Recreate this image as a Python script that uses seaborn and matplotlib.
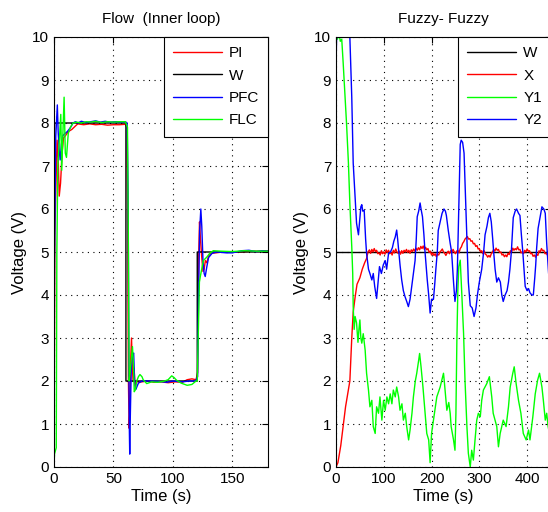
import pandas as pd
import matplotlib
matplotlib.use("Agg")
import matplotlib.pyplot as plt
import seaborn as sns

# --- data (time s, voltage V) ---
# left panel: Flow (Inner loop)
flow_w = [(0, 0), (0.5, 8), (60.5, 8), (60.5, 2), (120.5, 2), (120.5, 5), (180, 5)]
flow_pi = [(0, 0), (0.7, 5.4), (1.5, 6.4), (2.6, 7.6), (3.5, 7.2), (4.4, 6.3), (5.5, 6.6),
           (6.8, 7.3), (8, 7.65), (10, 7.72), (12, 7.8), (15, 7.85), (18, 7.93), (20, 7.98),
           (25, 7.96), (30, 7.98), (35, 7.96), (40, 7.97), (45, 7.95), (50, 7.96), (55, 7.96),
           (60, 7.97), (61.3, 7.9), (62, 5.5), (62.6, 2.0), (63.2, 0.9), (63.8, 1.3), (64.5, 2.5),
           (65.2, 3.0), (65.8, 2.4), (66.5, 2.0), (67.3, 2.3), (68.2, 1.9), (69.5, 2.0),
           (71, 1.97), (74, 1.98), (78, 2.0), (84, 1.97), (90, 1.98), (96, 1.96), (102, 1.98),
           (108, 1.97), (112, 2.03), (116, 2.05), (119.5, 2.03), (120.8, 2.2), (121.6, 4.8),
           (122.4, 5.7), (123.2, 5.3), (124.2, 4.9), (125.3, 4.55), (126.3, 4.6), (127.3, 4.8),
           (128.5, 4.75), (130, 4.9), (132, 4.97), (136, 4.98), (142, 5.0), (150, 5.0),
           (158, 5.0), (166, 5.02), (174, 5.02), (180, 5.03)]
flow_pfc = [(0, 0), (0.4, 4.8), (1.5, 7.7), (2.8, 8.42), (3.5, 7.8), (4.3, 7.4), (5.2, 7.14),
            (6.2, 7.5), (7.3, 7.7), (9, 7.75), (11.2, 7.8), (14, 7.9), (16, 8.0), (18, 8.03),
            (20, 8.0), (23, 8.04), (27, 8.01), (31, 8.03), (35, 8.05), (39, 8.02), (43, 8.04),
            (47, 8.02), (52, 8.03), (56, 8.02), (60, 8.03), (61.5, 8.0), (62.3, 6.4), (62.8, 3.5),
            (63.3, 1.0), (63.7, 0.3), (64.2, 1.2), (65, 2.3), (66, 2.6), (67, 2.65), (67.8, 2.0),
            (68.6, 1.8), (69.5, 1.85), (71, 1.95), (74, 2.0), (80, 2.0), (88, 1.99), (95, 1.97),
            (100, 2.0), (108, 1.98), (114, 2.0), (119, 2.0), (120.8, 2.1), (121.6, 4.0),
            (122.5, 5.5), (123.5, 6.0), (124.3, 5.6), (125.3, 4.8), (126.3, 4.5), (127.2, 4.43),
            (128.5, 4.65), (130, 4.87), (133, 4.97), (137, 5.0), (145, 4.98), (150, 4.98),
            (158, 5.03), (164, 5.04), (170, 5.01), (175, 5.03), (180, 5.02)]
flow_flc = [(0, 0), (0.4, 0.3), (1.9, 0.45), (2.4, 5.0), (3.2, 7.0), (4.5, 7.6), (5.7, 8.2),
            (6.5, 6.9), (7.3, 7.6), (8.5, 8.6), (9.5, 7.3), (10.5, 7.2), (12, 7.76), (13.8, 7.9),
            (16, 8.0), (19, 8.02), (23, 8.0), (27, 8.03), (31, 8.02), (35, 8.04), (40, 8.01),
            (45, 8.03), (50, 8.02), (55, 8.03), (60, 8.03), (61.8, 7.9), (62.5, 5.5), (63.2, 2.0),
            (64, 2.2), (65, 2.5), (66, 2.8), (66.8, 2.4), (67.5, 1.75), (68.5, 1.8), (69.6, 2.0),
            (71, 2.1), (72.3, 2.15), (74, 2.1), (75, 2.03), (78, 1.94), (82, 1.98), (87, 1.97),
            (92, 1.99), (96, 2.03), (99, 2.12), (101, 2.08), (103, 2.02), (107, 1.95), (112, 1.9),
            (116, 1.92), (119.5, 2.0), (120.5, 2.0), (121.3, 3.0), (122.3, 4.3), (123.2, 4.45),
            (125.6, 4.8), (128.5, 4.88), (131, 4.97), (134, 5.03), (140, 5.02), (150, 5.01),
            (160, 5.03), (170, 5.02), (180, 5.02)]

# right panel: Fuzzy- Fuzzy
fz_w = [(0, 5), (450, 5)]
fz_x = [(0, 0), (4, 0.1), (10, 0.5), (20, 1.4), (29, 2.0), (33, 3.0), (36, 3.6), (40, 3.95),
        (44, 4.25), (50, 4.4), (55, 4.6), (60, 4.75), (64, 4.85), (67, 5.0),
        (70, 5.05), (72.5, 4.97), (75, 5.06), (77.5, 5.0), (80, 5.08), (82.5, 5.01), (85, 5.04),
        (87.5, 4.96), (90, 4.98), (92.5, 4.93), (95, 5.03), (97.5, 4.96), (100, 5.0),
        (102.5, 4.95), (105, 5.05), (107.5, 4.99), (110, 5.04), (112.5, 4.96), (115, 4.99),
        (117.5, 4.93), (120, 5.04), (122.5, 4.98), (125, 5.07), (127.5, 5.0), (130, 4.97),
        (132.5, 5.02), (135, 4.95), (137.5, 5.03), (140, 4.97), (142.5, 5.04), (145, 5.0),
        (147.5, 5.06), (150, 4.99), (152.5, 5.04), (155, 4.97), (157.5, 5.05), (160, 5.01),
        (162.5, 5.07), (165, 5.02), (167.5, 5.09), (170, 5.04), (172.5, 5.1), (175, 5.05),
        (177.5, 5.13), (180, 5.08), (182.5, 5.14), (185, 5.06), (187.5, 5.11), (190, 5.05),
        (192.5, 5.08), (195, 4.99), (197.5, 5.02), (200, 4.93), (202.5, 4.98), (205, 4.92),
        (207.5, 4.96), (210, 4.89), (212.5, 4.95), (215, 4.93), (217.5, 5.0), (220, 5.03),
        (222.5, 5.07), (225, 5.0), (227.5, 4.97), (230, 4.92), (232.5, 4.98), (235, 5.02),
        (237.5, 4.96), (240, 5.03), (242.5, 4.98), (245, 5.06), (247.5, 5.0), (250, 4.96),
        (252.5, 5.02), (255, 5.04), (257.5, 4.98), (260, 5.08), (262.5, 5.12), (265, 5.2),
        (267.5, 5.24), (270, 5.3), (272.5, 5.33), (275, 5.36), (277.5, 5.3), (280, 5.31),
        (282.5, 5.25), (285, 5.26), (287.5, 5.19), (290, 5.2), (292.5, 5.13), (295, 5.15),
        (297.5, 5.07), (300, 5.08), (302.5, 5.0), (305, 5.03), (307.5, 4.96), (310, 5.03),
        (312.5, 4.95), (315, 4.93), (317.5, 4.88), (320, 4.92), (322.5, 4.88), (325, 4.96),
        (327.5, 5.0), (330, 5.06), (332.5, 5.02), (335, 5.09), (337.5, 5.04), (340, 5.06),
        (342.5, 4.99), (345, 5.0), (347.5, 4.93), (350, 4.95), (352.5, 4.89), (355, 4.93),
        (357.5, 4.89), (360, 4.97), (362.5, 4.94), (365, 5.03), (367.5, 5.0), (370, 5.09),
        (372.5, 5.04), (375, 5.08), (377.5, 5.05), (380, 5.12), (382.5, 5.05), (385, 5.06),
        (387.5, 4.98), (390, 5.0), (392.5, 4.96), (395, 5.04), (397.5, 5.0), (400, 5.07),
        (402.5, 5.02), (405, 5.03), (407.5, 4.96), (410, 4.97), (412.5, 4.9), (415, 4.93),
        (417.5, 4.88), (420, 4.95), (422.5, 4.92), (425, 5.03), (427.5, 5.0), (430, 5.08),
        (432.5, 5.03), (435, 5.04), (437.5, 4.96), (440, 4.97), (442.5, 4.93), (445, 5.04),
        (447.5, 4.98), (450, 5.02)]
fz_y1 = [(0, 10.2), (3, 9.95), (6, 10.1), (9, 9.9), (12, 9.95), (15, 9.4), (19, 8.6), (22, 8.0),
         (26, 7.07), (29, 6.13), (33, 5.12), (35, 4.5), (36, 3.73), (38, 3.2), (40, 3.5),
         (43, 3.35), (46, 2.9), (48, 3.2), (50, 3.42), (52, 3.0), (54, 2.88), (57, 3.1),
         (61, 2.72), (64, 2.18), (68, 1.79), (71, 1.4), (75, 1.55), (78, 0.94), (82, 0.78),
         (85, 1.4), (89, 1.25), (92, 1.63), (96, 1.09), (99.5, 1.55), (103, 1.32), (106.5, 1.63),
         (110, 1.47), (113.5, 1.7), (117, 1.47), (120, 1.79), (124, 1.63), (127, 1.86),
         (131, 1.63), (134, 1.32), (138, 1.47), (141, 1.09), (145, 1.25), (148, 0.94),
         (152, 0.63), (155, 0.86), (159, 1.25), (162, 1.63), (166, 2.0), (169, 2.18),
         (173, 2.48), (175, 2.64), (178, 2.33), (182, 1.86), (186.5, 1.25), (190, 0.78),
         (194, 0.63), (197, 0.1), (200, 0.78), (204, 1.09), (208, 1.4), (211, 1.63), (218, 1.86),
         (225, 2.18), (227, 1.95), (232, 1.32), (236, 1.5), (239, 1.25), (241, 0.94), (246, 0.63),
         (249, 0.39), (251, 1.25), (253, 2.95), (255, 4.1), (257, 4.66), (260, 4.81), (263, 4.1),
         (267, 3.11), (270, 2.02), (274, 0.94), (277, 0.32), (281, 0.0), (284, 0.39),
         (287.5, 0.16), (291, 0.63), (294.6, 1.09), (298, 1.25), (302, 1.17), (305, 1.55),
         (308.5, 1.79), (315.6, 1.94), (321, 2.1), (326, 1.63), (329, 1.25), (336.5, 0.94),
         (340, 0.47), (343.6, 0.78), (350, 1.09), (356, 0.94), (361, 1.4), (364.6, 1.86),
         (370, 2.18), (373, 2.33), (377, 1.94), (382, 1.55), (387, 1.25), (392, 0.78),
         (398, 0.63), (403, 0.86), (406, 0.63), (412, 1.17), (417, 1.7), (422, 2.02),
         (426, 2.18), (431, 1.86), (434, 1.55), (438, 1.09), (441, 1.25), (444, 0.94), (450, 0.6)]
fz_y2 = [(0, 9.2), (2, 10.6), (15, 11), (26, 10.6), (29, 10.0), (33, 8.6), (36, 7.07), (40, 6.29),
         (43, 5.67), (47, 5.4), (50, 5.8), (52, 6.05), (54, 6.1), (56, 5.95), (59, 5.97),
         (62, 5.3), (64, 4.97), (68, 4.6), (71, 4.5), (75, 4.35), (78, 4.5), (81, 4.2),
         (85, 3.92), (88, 4.3), (91, 4.66), (95, 4.5), (99, 4.7), (103, 4.8), (106, 4.6),
         (110, 4.97), (114, 5.0), (118, 5.1), (121, 5.25), (124, 5.35), (127, 5.51), (129, 5.3),
         (131, 5.05), (134, 4.7), (137.5, 4.35), (141, 4.1), (144.5, 3.96), (148, 3.85),
         (151.5, 3.73), (155, 3.9), (158.5, 4.2), (162, 4.5), (165.5, 4.8), (168, 5.3),
         (170, 5.82), (173, 5.95), (176, 6.14), (178, 6.0), (181, 5.82), (184, 5.4), (186, 5.05),
         (191, 4.35), (194, 4.0), (197, 3.58), (200, 3.9), (204, 3.9), (207, 4.3), (209, 4.6),
         (212, 5.0), (214, 5.5), (218, 5.7), (222, 5.9), (226, 6.0), (229, 5.95), (231, 5.85),
         (235, 5.5), (239, 5.2), (242, 5.0), (246, 4.3), (249, 3.85), (252, 4.1), (254, 4.6),
         (256, 5.5), (258, 6.5), (260, 7.5), (262, 7.6), (265, 7.55), (268, 7.3), (271, 6.3),
         (274, 5.3), (277, 4.3), (281, 3.75), (285, 3.7), (289, 3.5), (293, 3.7), (296, 4.0),
         (300, 4.3), (305, 4.6), (309, 5.0), (312, 5.4), (316, 5.6), (319, 5.8), (322, 5.9),
         (325, 5.7), (328, 5.3), (330, 5.0), (333, 4.6), (336.5, 4.3), (340, 4.4), (344, 4.3),
         (347, 4.0), (350, 3.85), (354, 4.0), (358, 4.1), (361, 4.3), (364, 4.6), (367, 5.0),
         (371, 5.8), (375, 5.95), (378, 6.0), (382, 5.9), (385, 5.85), (388, 5.4), (391, 5.0),
         (394, 4.5), (396, 4.2), (400, 4.1), (403, 4.15), (406, 4.05), (410, 4.0), (413, 4.0),
         (416, 4.4), (418, 4.7), (420, 5.1), (423, 5.55), (427, 5.8), (431, 6.05), (435, 6.0),
         (438, 5.9), (441, 5.2), (445, 4.5), (450, 4.3)]

flow_series = {'PI': flow_pi, 'W': flow_w, 'PFC': flow_pfc, 'FLC': flow_flc}
fuzzy_series = {'W': fz_w, 'X': fz_x, 'Y1': fz_y1, 'Y2': fz_y2}
colors = {'PI': '#ff0000', 'W': '#000000', 'PFC': '#0000ff', 'FLC': '#00ff00',
          'X': '#ff0000', 'Y1': '#00ff00', 'Y2': '#0000ff'}


def to_frame(series):
    rows = []
    for name, pts in series.items():
        for t, v in pts:
            rows.append({'Time': t, 'Voltage': v, 'Signal': name})
    return pd.DataFrame(rows)


sns.set_theme(style="white")
plt.rcParams['font.family'] = ['Liberation Sans Narrow', 'Liberation Sans', 'DejaVu Sans']
plt.rcParams.update({
    'font.size': 11,
    'axes.edgecolor': 'black',
    'axes.linewidth': 0.8,
    'xtick.direction': 'in', 'ytick.direction': 'in',
    'xtick.top': True, 'ytick.right': True,
    'xtick.major.size': 4, 'ytick.major.size': 4,
    'xtick.major.width': 0.8, 'ytick.major.width': 0.8,
    'xtick.color': 'black', 'ytick.color': 'black',
    'xtick.labelsize': 11, 'ytick.labelsize': 11,
    'text.color': 'black', 'axes.labelcolor': 'black',
})

W, H = 548, 512
fig = plt.figure(figsize=(W / 100, H / 100), dpi=100)
ax1 = fig.add_axes([54 / W, 45 / H, 214 / W, 430 / H])
ax2 = fig.add_axes([336 / W, 45 / H, 215 / W, 430 / H])


def draw_panel(ax, series, xmax, xticks, title):
    df = to_frame(series)
    order = list(series.keys())
    sns.lineplot(data=df, x='Time', y='Voltage', hue='Signal', hue_order=order,
                 palette=colors, estimator=None, sort=False, linewidth=1.0, ax=ax)
    ax.set_xlim(0, xmax)
    ax.set_ylim(0, 10)
    ax.set_xticks(xticks)
    ax.set_yticks(range(0, 11))
    ax.set_axisbelow(True)
    ax.grid(True, color='black', linestyle=(0, (1, 4)), linewidth=0.8)
    ax.set_xlabel('Time (s)', labelpad=2)
    ax.set_ylabel('Voltage (V)')
    ax.set_title(title, fontsize=11, pad=10)
    handles, labels = ax.get_legend_handles_labels()
    leg = ax.legend(handles, labels, loc='upper right', borderaxespad=0, fancybox=False,
                    edgecolor='black', framealpha=1, handlelength=3.2, handletextpad=0.45,
                    labelspacing=0.55, borderpad=0.6, fontsize=11)
    leg.get_frame().set_linewidth(0.8)


draw_panel(ax1, flow_series, 180, [0, 50, 100, 150], 'Flow  (Inner loop)')
draw_panel(ax2, fuzzy_series, 450, [0, 100, 200, 300, 400], 'Fuzzy- Fuzzy')

fig.savefig('out.png', dpi=100)
